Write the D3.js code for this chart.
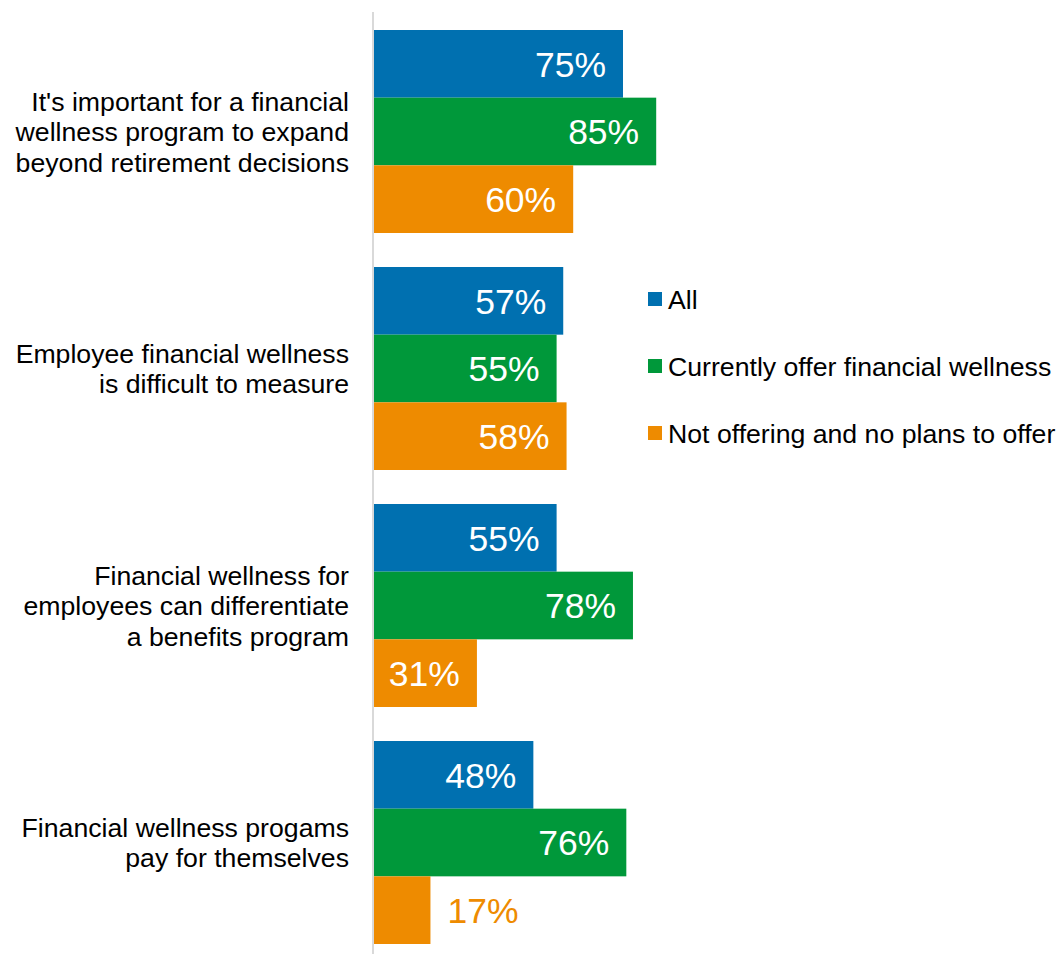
<!DOCTYPE html>
<html>
<head>
<meta charset="utf-8">
<script src="https://cdn.jsdelivr.net/npm/d3@7"></script>
<style>
  html, body { margin: 0; padding: 0; background: #fff; }
  svg { display: block; font-family: Arial, "Liberation Sans", sans-serif; }
</style>
</head>
<body>
<svg id="chart" width="1059" height="954"></svg>
<script>
// Statements (each label is split into its printed lines)
const categories = [
  "It's important for a financial|wellness program to expand|beyond retirement decisions",
  "Employee financial wellness|is difficult to measure",
  "Financial wellness for|employees can differentiate|a benefits program",
  "Financial wellness progams|pay for themselves"
];
const seriesNames = ["All", "Currently offer financial wellness", "Not offering and no plans to offer"];
const allValues = [75, 57, 55, 48];
const offerValues = [85, 55, 78, 76];
const notOfferingValues = [60, 58, 31, 17];
const seriesColors = ["#0070B0", "#00983A", "#EE8B00"];

const seriesValues = [allValues, offerValues, notOfferingValues];
const rows = categories.map((c, i) => ({
  category: c,
  values: seriesNames.map((s, j) => ({ series: s, value: seriesValues[j][i], idx: j }))
}));

const svg = d3.select("#chart");

const x = d3.scaleLinear().domain([0, 100]).range([374, 706]);
const y0 = d3.scaleBand().domain(categories).range([30, 944]).paddingInner(0.1435).paddingOuter(0);
const y1 = d3.scaleBand().domain(seriesNames).range([0, y0.bandwidth()]);
const color = d3.scaleOrdinal().domain(seriesNames).range(seriesColors);

// Bars and value labels
const groups = svg.selectAll("g.group")
  .data(rows)
  .join("g")
  .attr("class", "group")
  .attr("transform", d => `translate(0,${y0(d.category)})`);

groups.selectAll("rect")
  .data(d => d.values)
  .join("rect")
  .attr("x", x(0))
  .attr("y", d => y1(d.series))
  .attr("width", d => x(d.value) - x(0))
  .attr("height", y1.bandwidth())
  .attr("fill", d => color(d.series));

const labelPad = 17;
groups.selectAll("text.value")
  .data(d => d.values)
  .join("text")
  .attr("class", "value")
  .each(function(d) {
    const inside = d.value >= 25;
    d3.select(this)
      .attr("x", inside ? x(d.value) - labelPad : x(d.value) + labelPad)
      .attr("text-anchor", inside ? "end" : "start")
      .attr("fill", inside ? "#ffffff" : color(d.series));
  })
  .attr("y", d => y1(d.series) + y1.bandwidth() / 2)
  .attr("dy", "0.36em")
  .attr("font-size", 35.5)
  .text(d => d.value + "%");

// Vertical axis line
svg.append("line")
  .attr("x1", 373).attr("x2", 373)
  .attr("y1", 12).attr("y2", 954)
  .attr("stroke", "#d9d9d9")
  .attr("stroke-width", 2);

// Category labels, right-aligned beside the axis
const lineH = 30.5;
svg.selectAll("text.cat")
  .data(categories)
  .join("text")
  .attr("class", "cat")
  .attr("text-anchor", "end")
  .attr("font-size", 26.67)
  .attr("fill", "#000")
  .each(function(c) {
    const lines = c.split("|");
    const cy = y0(c) + y0.bandwidth() / 2;
    const t = d3.select(this);
    lines.forEach((ln, k) => {
      t.append("tspan")
        .attr("x", 349)
        .attr("y", cy + (k - (lines.length - 1) / 2) * lineH)
        .attr("dy", "0.36em")
        .text(ln);
    });
  });

// Legend
const legendY = [299, 366, 433];
const legend = svg.selectAll("g.legend")
  .data(seriesNames)
  .join("g")
  .attr("class", "legend")
  .attr("transform", (d, i) => `translate(648,${legendY[i]})`);
legend.append("rect")
  .attr("x", 0).attr("y", -7)
  .attr("width", 14).attr("height", 14)
  .attr("fill", d => color(d));
legend.append("text")
  .attr("x", 20)
  .attr("dy", "0.36em")
  .attr("font-size", 26.67)
  .attr("fill", "#000")
  .text(d => d);
</script>
</body>
</html>
